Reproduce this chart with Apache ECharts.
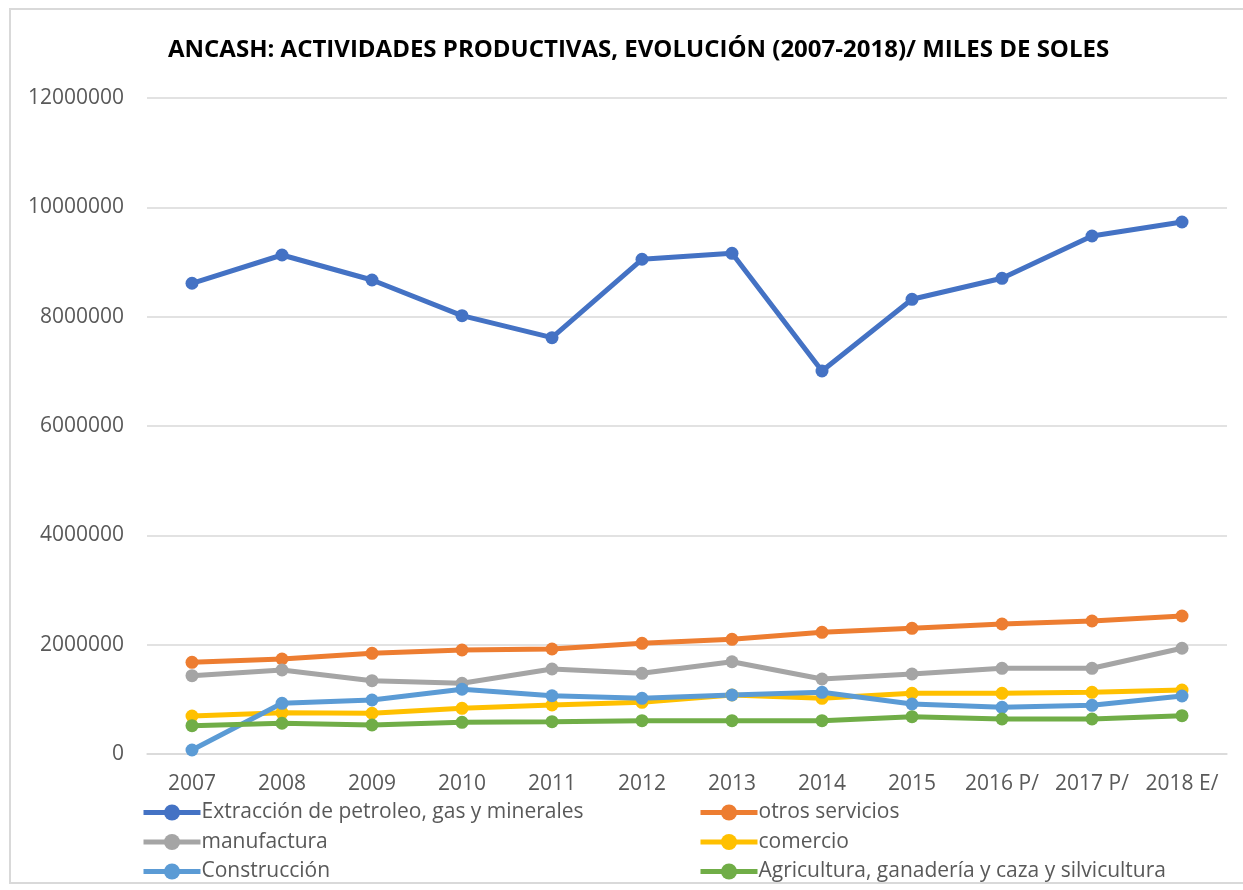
<!DOCTYPE html>
<html>
<head>
<meta charset="utf-8">
<script src="https://cdn.jsdelivr.net/npm/echarts@6/dist/echarts.min.js"></script>
<style>
  html, body { margin: 0; padding: 0; background: #fff; }
  #chart { width: 1243px; height: 890px; }
</style>
</head>
<body>
<div id="chart"></div>
<script>
const years = ['2007', '2008', '2009', '2010', '2011', '2012', '2013', '2014', '2015', '2016 P/', '2017 P/', '2018 E/'];

const extraccion = [8611000, 9128000, 8671000, 8018000, 7616000, 9050000, 9159000, 7006000, 8318000, 8702000, 9476000, 9732000];
const otrosServicios = [1677000, 1738000, 1842000, 1902000, 1921000, 2025000, 2098000, 2226000, 2299000, 2378000, 2433000, 2524000];
const manufactura = [1432000, 1537000, 1341000, 1293000, 1555000, 1476000, 1688000, 1372000, 1463000, 1568000, 1568000, 1934000];
const comercio = [695000, 756000, 745000, 836000, 896000, 946000, 1079000, 1019000, 1110000, 1110000, 1129000, 1171000];
const construccion = [73000, 927000, 988000, 1184000, 1066000, 1019000, 1079000, 1129000, 915000, 854000, 891000, 1061000];
const agricultura = [518000, 562000, 530000, 580000, 591000, 609000, 609000, 609000, 682000, 640000, 640000, 701000];

const yTicks = [0, 2000000, 4000000, 6000000, 8000000, 10000000, 12000000];

const chart = echarts.init(document.getElementById('chart'));

const font = '"Open Sans", "DejaVu Sans", sans-serif';
const textGray = '#595959';

function line(name, data, color) {
    return {
        name,
        type: 'line',
        data,
        symbol: 'circle',
        symbolSize: 13,
        lineStyle: { width: 5, color },
        itemStyle: { color },
        emphasis: { disabled: true },
        animation: false
    };
}

const legendBase = {
    orient: 'vertical',
    top: 797,
    itemWidth: 57,
    itemHeight: 20,
    itemGap: 8.5,
    selectedMode: false,
    lineStyle: { width: 5 },
    textStyle: { fontFamily: font, fontSize: 21, color: textGray, lineHeight: 20, padding: [0, 0, 0, -4] }
};

const option = {
    backgroundColor: '#fff',
    title: {
        text: 'ANCASH: ACTIVIDADES PRODUCTIVAS, EVOLUCIÓN (2007-2018)/ MILES DE SOLES',
        left: 163,
        top: 33,
        textStyle: { fontFamily: font, fontSize: 24, fontWeight: 'bold', color: '#000' }
    },
    graphic: [{
        type: 'rect',
        shape: { x: 10, y: 9, width: 1260, height: 874 },
        style: { fill: 'none', stroke: '#d9d9d9', lineWidth: 2 },
        silent: true
    }],
    legend: [
        Object.assign({}, legendBase, {
            left: 136,
            data: ['Extracción de petroleo, gas y minerales', 'manufactura', 'Construcción']
        }),
        Object.assign({}, legendBase, {
            left: 693,
            data: ['otros servicios', 'comercio', 'Agricultura, ganadería y caza y silvicultura']
        })
    ],
    grid: { left: 147, right: 16, top: 98, bottom: 136 },
    xAxis: {
        type: 'category',
        data: years,
        axisLine: { lineStyle: { color: '#d9d9d9', width: 1.5 } },
        axisTick: { show: false },
        axisLabel: { fontFamily: font, fontSize: 21, color: textGray, margin: 20, interval: 0 }
    },
    yAxis: {
        type: 'value',
        min: yTicks[0],
        max: yTicks[yTicks.length - 1],
        interval: yTicks[1] - yTicks[0],
        axisLine: { show: false },
        axisTick: { show: false },
        axisLabel: { fontFamily: font, fontSize: 21, color: textGray, margin: 23, formatter: v => String(v) },
        splitLine: { lineStyle: { color: '#d9d9d9', width: 1.5 } }
    },
    series: [
        line('Extracción de petroleo, gas y minerales', extraccion, '#4472C4'),
        line('otros servicios', otrosServicios, '#ED7D31'),
        line('manufactura', manufactura, '#A5A5A5'),
        line('comercio', comercio, '#FFC000'),
        line('Construcción', construccion, '#5B9BD5'),
        line('Agricultura, ganadería y caza y silvicultura', agricultura, '#70AD47')
    ]
};

chart.setOption(option);
</script>
</body>
</html>
